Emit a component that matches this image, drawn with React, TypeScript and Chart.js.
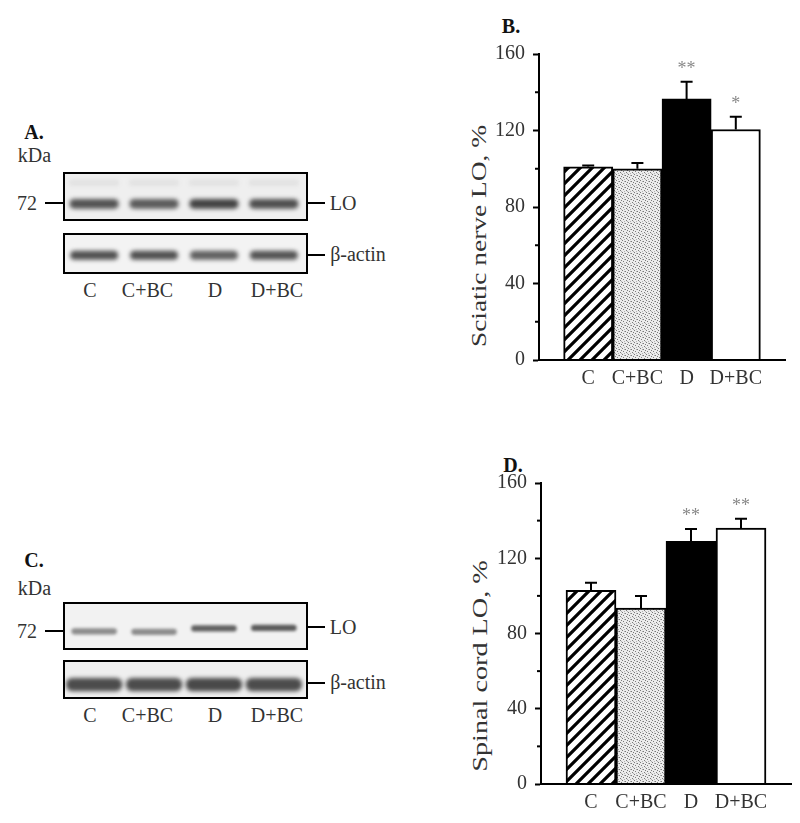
import React, { useEffect, useRef } from "react";
import { Chart, registerables } from "chart.js";
Chart.register(...registerables);

// ---------- data ----------
const groups = ["C", "C+BC", "D", "D+BC"];
const yMajorStep = 40;
const yMinorStep = 20;
const yMax = 160;

const sciaticMean = [101, 100, 136.5, 120.5];
const sciaticSEM = [0.7, 3, 9, 6.7];
const sciaticSig = ["", "", "**", "*"];

const spinalMean = [103, 93.5, 129, 136];
const spinalSEM = [4, 6.5, 6.5, 5];
const spinalSig = ["", "", "**", "**"];

// western blot band intensities (0..1) per lane
const blotA_LO = [0.78, 0.74, 0.86, 0.8];
const blotA_actin = [0.8, 0.8, 0.72, 0.78];
const blotC_LO = [0.5, 0.5, 0.72, 0.75];
const blotC_actin = [0.82, 0.82, 0.84, 0.82];

const FONT = '"Liberation Serif", "Times New Roman", serif';
const TXT = "#333";

function hatchPattern(ctx: CanvasRenderingContext2D) {
  const c = document.createElement("canvas");
  c.width = 12;
  c.height = 12;
  const g = c.getContext("2d")!;
  g.fillStyle = "#fff";
  g.fillRect(0, 0, 12, 12);
  g.strokeStyle = "#000";
  g.lineWidth = 3.2;
  g.beginPath();
  g.moveTo(-3, 15); g.lineTo(15, -3);
  g.moveTo(-9, 9); g.lineTo(9, -9);
  g.moveTo(3, 21); g.lineTo(21, 3);
  g.stroke();
  return ctx.createPattern(c, "repeat")!;
}

function stipplePattern(ctx: CanvasRenderingContext2D) {
  const c = document.createElement("canvas");
  c.width = 6;
  c.height = 6;
  const g = c.getContext("2d")!;
  g.fillStyle = "#ececec";
  g.fillRect(0, 0, 6, 6);
  g.fillStyle = "#7a7a7a";
  [[0, 0], [3, 1], [1, 3], [4, 4], [5, 2]].forEach(([x, y]) => g.fillRect(x, y, 1, 1));
  g.fillStyle = "#b0b0b0";
  [[2, 5], [5, 5], [2, 1]].forEach(([x, y]) => g.fillRect(x, y, 1, 1));
  return ctx.createPattern(c, "repeat")!;
}

type BarLayout = { left: number; top: number; w: number; h: number; yw: number; pt: number; pr: number; xh: number };

function BarPanel({ means, sems, sig, L }: { means: number[]; sems: number[]; sig: string[]; L: BarLayout }) {
  const ref = useRef<HTMLCanvasElement>(null);
  useEffect(() => {
    const canvas = ref.current!;
    const ctx = canvas.getContext("2d")!;
    const fills = [hatchPattern(ctx), stipplePattern(ctx), "#000", "#fff"];
    const errPlugin = {
      id: "errStars",
      afterDatasetsDraw(chart: any) {
        const meta = chart.getDatasetMeta(0);
        const ys = chart.scales.y;
        const c = chart.ctx as CanvasRenderingContext2D;
        c.save();
        c.strokeStyle = "#000";
        c.lineWidth = 2;
        meta.data.forEach((bar: any, i: number) => {
          const top = ys.getPixelForValue(means[i]);
          const hi = ys.getPixelForValue(means[i] + sems[i]);
          c.beginPath();
          c.moveTo(bar.x, top);
          c.lineTo(bar.x, hi);
          c.moveTo(bar.x - 6, hi);
          c.lineTo(bar.x + 6, hi);
          c.stroke();
          if (sig[i]) {
            c.fillStyle = "#888";
            c.font = `18px ${FONT}`;
            c.textAlign = "center";
            c.textBaseline = "alphabetic";
            c.fillText(sig[i], bar.x, hi - 8);
          }
        });
        const xa = chart.chartArea.left;
        ys.ticks.forEach((t: any) => {
          if (t.value % yMajorStep !== 0) {
            const p = ys.getPixelForValue(t.value);
            c.beginPath();
            c.moveTo(xa - 4, p);
            c.lineTo(xa + 1, p);
            c.stroke();
          }
        });
        c.restore();
      },
    };
    const chart = new Chart(canvas, {
      type: "bar",
      data: {
        datasets: [
          {
            data: groups.map((_, i) => ({ x: i + 1, y: means[i] })),
            backgroundColor: fills as any,
            borderColor: "#000",
            borderWidth: 2,
            barPercentage: 1,
            categoryPercentage: 1,
          },
        ],
      },
      options: {
        responsive: false,
        animation: false,
        devicePixelRatio: 1,
        layout: { padding: { top: L.pt, right: L.pr, left: 0, bottom: 0 } },
        plugins: { legend: { display: false }, tooltip: { enabled: false }, title: { display: false } },
        scales: {
          x: {
            type: "linear",
            min: 0,
            max: groups.length + 1,
            offset: false,
            afterBuildTicks: (s: any) => {
              s.ticks = groups.map((_, i) => ({ value: i + 1 }));
            },
            afterFit: (s: any) => {
              s.height = L.xh;
            },
            grid: { display: false, drawTicks: false, offset: false },
            border: { display: true, color: "#000", width: 2, z: 1 },
            ticks: {
              callback: (v: any) => groups[Number(v) - 1] ?? "",
              font: { family: FONT, size: 20 },
              color: TXT,
              padding: 7,
              maxRotation: 0,
              autoSkip: false,
            },
          },
          y: {
            type: "linear",
            min: 0,
            max: yMax,
            afterFit: (s: any) => {
              s.width = L.yw;
            },
            ticks: {
              stepSize: yMinorStep,
              callback: (v: any) => (Number(v) % yMajorStep === 0 ? String(v) : ""),
              font: { family: FONT, size: 20 },
              color: TXT,
              padding: 8,
              autoSkip: false,
            },
            grid: {
              drawOnChartArea: false,
              drawTicks: true,
              tickLength: 6,
              tickWidth: 2,
              tickColor: (c: any) => (c.tick && c.tick.value % yMajorStep === 0 ? "#000" : "rgba(0,0,0,0)"),
            },
            border: { display: true, color: "#000", width: 2, z: 1 },
          },
        },
      } as any,
      plugins: [errPlugin],
    });
    return () => chart.destroy();
  }, []);
  return (
    <canvas
      ref={ref}
      width={L.w}
      height={L.h}
      style={{ position: "absolute", left: L.left, top: L.top, width: L.w, height: L.h }}
    />
  );
}

type BandStyle = { yc: number; th: number; bw: number; blur: number; bg: string; shift?: number[]; faint?: number };

function Blot({ x, y, w, h, intens, S }: { x: number; y: number; w: number; h: number; intens: number[]; S: BandStyle }) {
  const ref = useRef<HTMLCanvasElement>(null);
  useEffect(() => {
    const canvas = ref.current!;
    const plugin = {
      id: "blot",
      beforeDatasetsDraw(chart: any) {
        const c = chart.ctx as CanvasRenderingContext2D;
        const xs = chart.scales.x;
        const ys = chart.scales.y;
        c.save();
        c.fillStyle = S.bg;
        c.fillRect(0, 0, chart.width, chart.height);
        c.filter = `blur(${S.blur}px)`;
        const th = Math.abs(ys.getPixelForValue(S.th) - ys.getPixelForValue(0));
        intens.forEach((v, i) => {
          const x0 = xs.getPixelForValue(i - S.bw / 2);
          const x1 = xs.getPixelForValue(i + S.bw / 2);
          const yc = ys.getPixelForValue(S.yc + (S.shift ? S.shift[i] : 0));
          const r = th / 2;
          c.fillStyle = `rgba(40,40,40,${v})`;
          c.beginPath();
          c.moveTo(x0 + r, yc - r);
          c.lineTo(x1 - r, yc - r);
          c.quadraticCurveTo(x1, yc - r, x1, yc);
          c.quadraticCurveTo(x1, yc + r, x1 - r, yc + r);
          c.lineTo(x0 + r, yc + r);
          c.quadraticCurveTo(x0, yc + r, x0, yc);
          c.quadraticCurveTo(x0, yc - r, x0 + r, yc - r);
          c.fill();
          if (S.faint) {
            const yf = ys.getPixelForValue(0.22);
            c.fillStyle = `rgba(60,60,60,${S.faint})`;
            c.fillRect(x0, yf - 3, x1 - x0, 6);
          }
        });
        c.filter = "none";
        c.restore();
      },
      afterDraw(chart: any) {
        const c = chart.ctx as CanvasRenderingContext2D;
        c.save();
        c.strokeStyle = "#000";
        c.lineWidth = 2;
        c.strokeRect(1, 1, chart.width - 2, chart.height - 2);
        c.restore();
      },
    };
    const chart = new Chart(canvas, {
      type: "scatter",
      data: { datasets: [] },
      options: {
        responsive: false,
        animation: false,
        devicePixelRatio: 1,
        layout: { padding: 0 },
        plugins: { legend: { display: false }, tooltip: { enabled: false } },
        scales: {
          x: { type: "linear", min: -0.52, max: 3.57, display: false },
          y: { type: "linear", min: 0, max: 1, reverse: true, display: false },
        },
      } as any,
      plugins: [plugin],
    });
    return () => chart.destroy();
  }, []);
  return <canvas ref={ref} width={w} height={h} style={{ position: "absolute", left: x, top: y, width: w, height: h }} />;
}

function T({ x, y, children, bold, size = 20, color = TXT, tf = "" }: any) {
  return (
    <div
      style={{
        position: "absolute",
        left: x,
        top: y,
        transform: `translate(-50%,-50%) ${tf}`,
        font: `${bold ? "bold " : ""}${size}px ${FONT}`,
        lineHeight: `${size}px`,
        color,
        whiteSpace: "nowrap",
      }}
    >
      {children}
    </div>
  );
}

function Dash({ x, y, w }: { x: number; y: number; w: number }) {
  return <div style={{ position: "absolute", left: x, top: y - 1, width: w, height: 2, background: "#000" }} />;
}

function BlotPanel({ top, letter, letterY, kdaY, loY, loH, actY, actH, loLabelY, markY, actLabelY, laneY, lo, act, loS, actS }: any) {
  const laneX = [90, 147.5, 215, 277];
  return (
    <>
      {letter && <T x={34} y={letterY} bold color="#111">{letter}</T>}
      <T x={34.5} y={kdaY}>kDa</T>
      <T x={27} y={markY}>72</T>
      <Dash x={45} y={markY} w={18} />
      <Blot x={63} y={loY} w={245} h={loH} intens={lo} S={loS} />
      <Dash x={308} y={loLabelY} w={17} />
      <T x={343} y={loLabelY}>LO</T>
      <Blot x={63} y={actY} w={245} h={actH} intens={act} S={actS} />
      <Dash x={308} y={actLabelY + 1} w={17} />
      <T x={358} y={actLabelY}>β-actin</T>
      {groups.map((g, i) => (
        <T key={g} x={laneX[i]} y={laneY}>{g}</T>
      ))}
    </>
  );
}

export default function App() {
  return (
    <div style={{ position: "fixed", left: 0, top: 0, width: 800, height: 823, background: "#fff", overflow: "hidden" }}>
      {/* Panel A */}
      <BlotPanel
        letter="A."
        letterY={132}
        kdaY={155}
        markY={203}
        loY={172}
        loH={49}
        loLabelY={203}
        actY={233}
        actH={41}
        actLabelY={254}
        laneY={289.5}
        lo={blotA_LO}
        act={blotA_actin}
        loS={{ yc: 0.65, th: 0.2, bw: 0.82, blur: 2, bg: "#efefef", faint: 0.08 }}
        actS={{ yc: 0.54, th: 0.22, bw: 0.8, blur: 2, bg: "#f3f3f3" }}
      />
      {/* Panel C */}
      <BlotPanel
        letter="C."
        letterY={560}
        kdaY={588}
        markY={631}
        loY={602}
        loH={48}
        loLabelY={627}
        actY={660}
        actH={39}
        actLabelY={682}
        laneY={715}
        lo={blotC_LO}
        act={blotC_actin}
        loS={{ yc: 0.6, th: 0.13, bw: 0.76, blur: 1.5, bg: "#f2f2f2", shift: [0.01, 0.02, -0.05, -0.06] }}
        actS={{ yc: 0.63, th: 0.34, bw: 0.94, blur: 2, bg: "#efefef" }}
      />

      {/* Panel B */}
      <T x={511} y={26} bold color="#111">B.</T>
      <T x={478.5} y={236} tf="rotate(-90deg) scaleX(1.37)">Sciatic nerve LO, %</T>
      <BarPanel
        means={sciaticMean}
        sems={sciaticSEM}
        sig={sciaticSig}
        L={{ left: 460, top: 0, w: 340, h: 400, yw: 79, pt: 54, pr: 15, xh: 40 }}
      />

      {/* Panel D */}
      <T x={513} y={465} bold color="#111">D.</T>
      <T x={480} y={666} tf="rotate(-90deg) scaleX(1.41)">Spinal cord LO, %</T>
      <BarPanel
        means={spinalMean}
        sems={spinalSEM}
        sig={spinalSig}
        L={{ left: 460, top: 420, w: 340, h: 403, yw: 81, pt: 63, pr: 9, xh: 39 }}
      />
    </div>
  );
}
